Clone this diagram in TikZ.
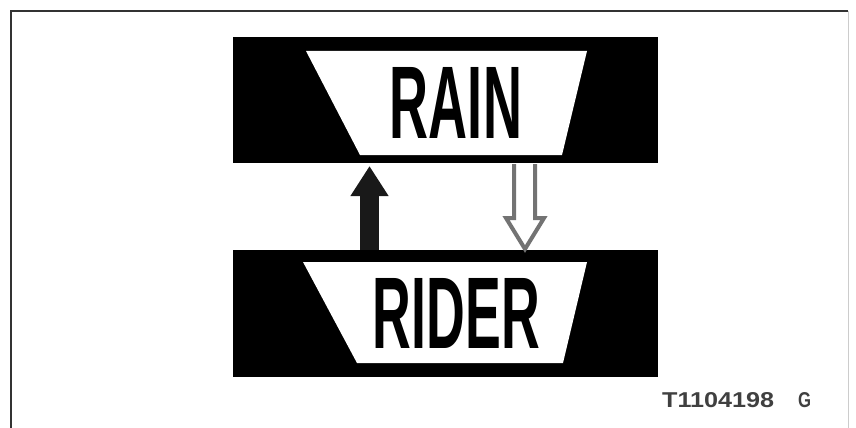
\documentclass[tikz,border=0pt]{standalone}
\usepackage{fontspec}
\setmainfont{Liberation Sans}
\usetikzlibrary{arrows.meta}
\tikzset{
  blackbox/.style={fill=black, inner sep=0pt, outer sep=0pt, minimum width=425pt},
  panel/.style={fill=white},
  bigword/.style={inner sep=0pt, outer sep=0pt, text=black},
  uparrow/.style={line width=19pt, black!90, -{Triangle[length=30pt, width=36pt]}},
  hollowarrow/.style={draw=black!55, line width=4pt, fill=white, line join=miter},
  codetext/.style={inner sep=0pt, text=black!75},
  frameline/.style={line width=2.5pt, black!80}
}
\begin{document}
\begin{tikzpicture}[x=1pt,y=-1pt]
\useasboundingbox (0,0) rectangle (856,428);
\fill[white] (0,0) rectangle (856,428);
% frame
\draw[frameline] (11,428) -- (11,11) -- (848,11);
\draw[line width=1pt, black!20] (848,11) -- (848,428);
% top box
\node[blackbox, minimum height=126pt] (rainbox) at (445.5,100) {};
\fill[panel] (306,51) -- (587,51) -- (562,155) -- (360,155) -- cycle;
\node[bigword] (rain) at (456,102.5) {\resizebox{132pt}{71pt}{\bfseries RAIN}};
% bottom box
\node[blackbox, minimum height=127pt] (riderbox) at (445.5,313.5) {};
\fill[panel] (303,262) -- (587,262) -- (563,363) -- (357,363) -- cycle;
\node[bigword] (rider) at (456.5,313) {\resizebox{167pt}{70pt}{\bfseries RIDER}};
% arrows
\coordinate (upstart) at (369.5,250);
\coordinate (upend) at (369.5,166);
\draw[uparrow] (upstart) -- (upend);
\draw[hollowarrow] (514,164) -- (514,218) -- (506,218) -- (525,249) -- (544,218) -- (535,218) -- (535,164);
% code
\node[codetext, anchor=west] (code) at (662,400) {\resizebox{112pt}{15pt}{\bfseries T1104198}};
\node[codetext, anchor=west] (codeg) at (798,400) {\resizebox{13pt}{15pt}{\bfseries G}};
\end{tikzpicture}
\end{document}
